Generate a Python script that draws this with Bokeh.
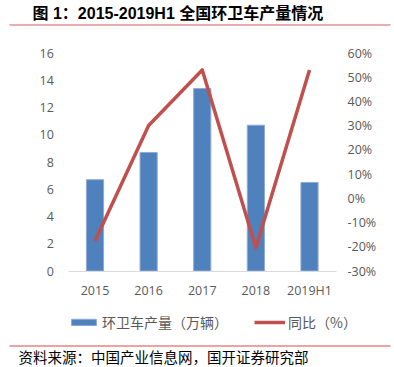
from bokeh.plotting import figure
from bokeh.models import (Range1d, LinearAxis, FixedTicker, PrintfTickFormatter,
                          Legend, LegendItem, Label, BoxAnnotation, ColumnDataSource)
from bokeh.embed import file_html
from bokeh.resources import INLINE

# ---- data ----
years = ["2015", "2016", "2017", "2018", "2019H1"]
output = [6.7, 8.7, 13.4, 10.7, 6.5]          # 环卫车产量（万辆）
yoy = [-17.6, 30.1, 53.0, -20.4, 53.0]        # 同比（%）
left_ticks = [0, 2, 4, 6, 8, 10, 12, 14, 16]
right_ticks = [-30, -20, -10, 0, 10, 20, 30, 40, 50, 60]
title_text = "图 1：2015-2019H1 全国环卫车产量情况"
source_text = "资料来源：中国产业信息网，国开证券研究部"
bar_label = "环卫车产量（万辆）"
line_label = "同比（%）"

# ---- styling / layout constants (pixels) ----
BAR = "#4f81bd"
RED = "#c0504d"
GRAY = "#595959"
TICK_FONT = "Open Sans"
CJK = "Noto Sans CJK SC"
W, H = 394, 367
FL, FR, FT, FB = 4, 390, 0, 367          # frame edges on the canvas
X0, STEP = 94.5, 53.625                  # first category centre, category pitch
BASE, KY = 270.5, 218 / 16               # y=0 pixel, px per unit (left axis)
KP = 218 / 90                            # px per percent (right axis)
ZP = 52.5 + 60 * KP                      # 0% pixel


def xdata(px):
    return (px - X0) / STEP


def ydata(px):
    return (BASE - px) / KY


idx = list(range(len(years)))
src = ColumnDataSource(dict(x=idx, output=output, yoy=yoy))

p = figure(width=W, height=H, output_backend="svg", toolbar_location=None,
           x_range=Range1d(xdata(FL), xdata(FR)), y_range=Range1d(ydata(FB), ydata(FT)),
           min_border_left=FL, min_border_right=W - FR, min_border_top=FT, min_border_bottom=H - FB)
p.outline_line_color = None
p.grid.visible = False
p.background_fill_color = "white"
p.border_fill_color = "white"
p.extra_y_ranges = {"pct": Range1d((ZP - FB) / KP, (ZP - FT) / KP)}


def style_axis(ax, standoff):
    ax.axis_line_color = None
    ax.major_tick_line_color = None
    ax.minor_tick_line_color = None
    ax.major_tick_out = 0
    ax.major_tick_in = 0
    ax.minor_tick_out = 0
    ax.minor_tick_in = 0
    ax.major_label_standoff = standoff
    ax.major_label_text_font = TICK_FONT
    ax.major_label_text_font_size = "12.5px"
    ax.major_label_text_color = GRAY


# left value axis (labels right-aligned at x~53)
ya = p.yaxis[0]
ya.ticker = FixedTicker(ticks=left_ticks)
style_axis(ya, -13)
ya.fixed_location = xdata(53.3 - 13)

# category labels
xa = p.xaxis[0]
xa.ticker = FixedTicker(ticks=idx)
xa.major_label_overrides = {i: y for i, y in zip(idx, years)}
style_axis(xa, -18)
xa.fixed_location = ydata(281 + 18)

# baseline
base_axis = LinearAxis(ticker=FixedTicker(ticks=[]), fixed_location=0,
                       bounds=(-0.5, len(years) - 0.5))
base_axis.axis_line_color = "#d9d9d9"
base_axis.axis_line_width = 1
base_axis.major_tick_out = 0
base_axis.minor_tick_out = 0
base_axis.major_label_standoff = 0
p.add_layout(base_axis, "below")

# right percent axis
ra = LinearAxis(y_range_name="pct", ticker=FixedTicker(ticks=right_ticks),
                formatter=PrintfTickFormatter(format="%d%%"))
style_axis(ra, -27)
ra.fixed_location = xdata(347 + 27)
p.add_layout(ra, "right")

bars = p.vbar(x="x", top="output", width=0.32, source=src,
              fill_color=BAR, line_color="#8eaad6", line_width=1)
line = p.line(x="x", y="yoy", source=src, y_range_name="pct",
              line_color=RED, line_width=3.5, line_join="round")

legend = Legend(items=[LegendItem(label=bar_label, renderers=[bars]),
                       LegendItem(label=line_label, renderers=[line])],
                location=(64, 35), orientation="horizontal",
                glyph_width=31, glyph_height=8, label_height=8, label_standoff=3, spacing=26,
                padding=0, margin=0, border_line_color=None, background_fill_alpha=0,
                label_text_font=CJK, label_text_font_size="14px", label_text_color=GRAY)
p.add_layout(legend)

# title & decorations (absolute canvas positions)
p.add_layout(Label(x=32, y=13, x_units="canvas", y_units="canvas", text=title_text,
                   text_font="Liberation Sans, Noto Sans CJK SC", text_font_style="bold",
                   text_font_size="16px", text_color="black", text_baseline="middle"))
p.add_layout(BoxAnnotation(left=9, right=W, top=24, bottom=25,
                           left_units="canvas", right_units="canvas",
                           top_units="canvas", bottom_units="canvas",
                           fill_color="#d65c5c", fill_alpha=1, line_color=None))
p.add_layout(BoxAnnotation(left=9, right=W, top=345, bottom=346,
                           left_units="canvas", right_units="canvas",
                           top_units="canvas", bottom_units="canvas",
                           fill_color="#d94848", fill_alpha=1, line_color=None))
p.add_layout(Label(x=18, y=366, x_units="canvas", y_units="canvas", text=source_text,
                   text_font=CJK, text_font_size="14.5px", text_color="black",
                   text_baseline="bottom"))

open("out.html", "w").write(file_html(p, INLINE))
